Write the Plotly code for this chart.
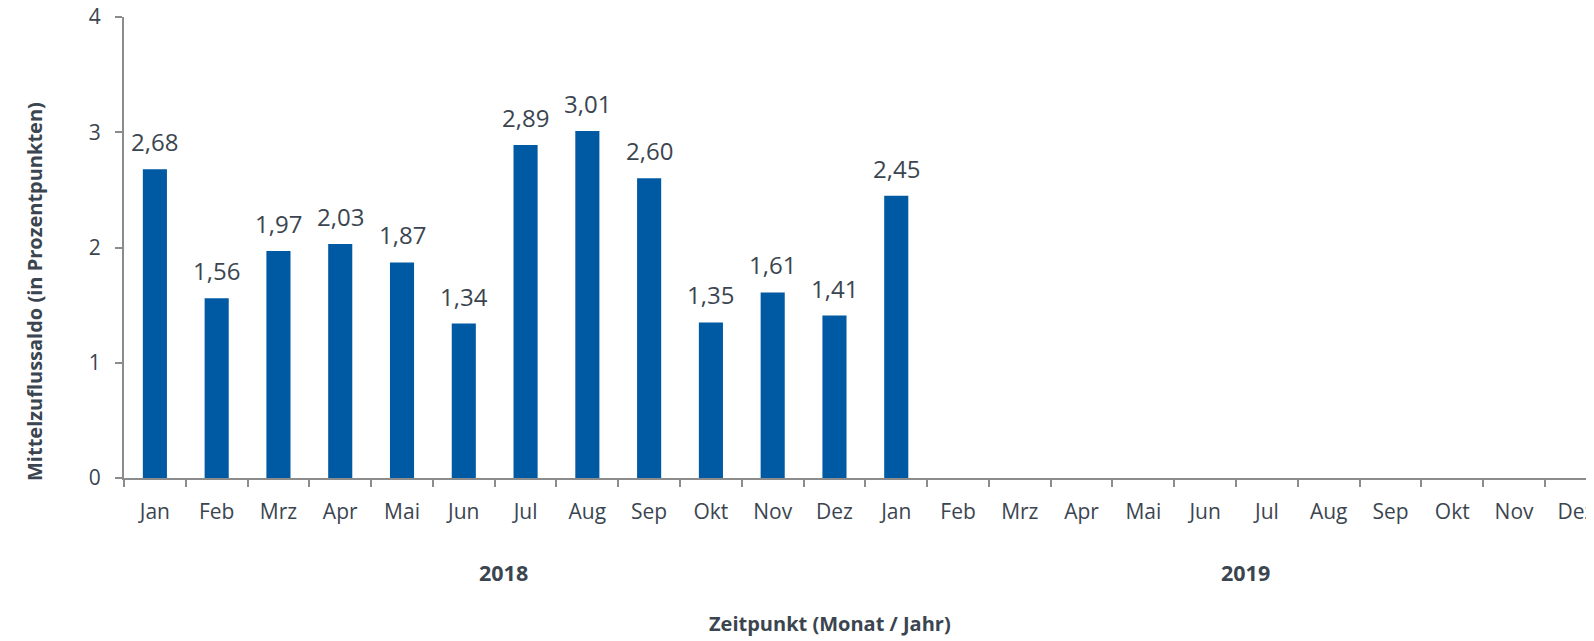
import plotly.graph_objects as go

months = ["Jan", "Feb", "Mrz", "Apr", "Mai", "Jun", "Jul", "Aug", "Sep", "Okt", "Nov", "Dez"]
years = ["2018", "2019"]
values_2018 = [2.68, 1.56, 1.97, 2.03, 1.87, 1.34, 2.89, 3.01, 2.60, 1.35, 1.61, 1.41]
values_2019 = [2.45, None, None, None, None, None, None, None, None, None, None, None]

categories = [f"{m} {y}" for y in years for m in months]
tick_text = months * len(years)
values = values_2018 + values_2019
labels = [("%.2f" % v).replace(".", ",") if v is not None else "" for v in values]

BAR = "#0059A3"
TXT = "#3B4550"
AX = "#8C8C8C"
FONT = "Open Sans"

# page body has an 8px default margin: figure starts at (8, 8)
PAGE_OFF = 8
PLOT_L, PLOT_T, PLOT_B = 124, 17, 478   # target pixel positions on the page
plot_w = 1594 - PLOT_L
plot_h = PLOT_B - PLOT_T
cat_w = 61.78
x_end = -0.5 + plot_w / cat_w

fig = go.Figure()
fig.add_trace(go.Bar(
    x=categories, y=values, marker=dict(color=BAR, line=dict(width=0)),
    width=0.39, hoverinfo="skip",
))

for c, v, t in zip(categories, values, labels):
    if v is None:
        continue
    fig.add_annotation(x=c, y=v, text=t, showarrow=False, yanchor="bottom",
                       yshift=9, font=dict(family=FONT, size=24, color=TXT))

W, H = 1594 - PAGE_OFF, 641 - PAGE_OFF
fig.update_layout(
    width=W, height=H,
    margin=dict(l=PLOT_L - PAGE_OFF, r=0, t=PLOT_T - PAGE_OFF,
                b=H - (PLOT_B - PAGE_OFF), autoexpand=False),
    plot_bgcolor="white", paper_bgcolor="white",
    showlegend=False,
    font=dict(family=FONT, color=TXT),
)
fig.update_xaxes(
    type="category", categoryorder="array", categoryarray=categories,
    range=[-0.5, x_end],
    tickmode="array", tickvals=categories, ticktext=tick_text,
    tickson="boundaries", ticks="outside", ticklen=7, tickwidth=2, tickcolor=AX,
    showline=True, linecolor=AX, linewidth=2, showgrid=False, zeroline=False,
    tickfont=dict(family=FONT, size=21, color=TXT), ticklabelstandoff=14,
    ticklabeloverflow="allow", automargin=False,
)
fig.update_yaxes(
    range=[0, 4], dtick=1, tickmode="linear", tick0=0,
    ticks="outside", ticklen=7, tickwidth=2, tickcolor=AX,
    showline=True, linecolor=AX, linewidth=2, showgrid=False, zeroline=False,
    tickfont=dict(family=FONT, size=21, color=TXT), ticklabelstandoff=10,
    ticklabeloverflow="allow", automargin=False,
)

# year labels
for i, y in enumerate(years):
    fig.add_annotation(x=i * 12 + 5.5, y=0, xref="x", yref="paper", text=f"<b>{y}</b>",
                       showarrow=False, yanchor="middle", yshift=-(572 - PLOT_B), xshift=9,
                       font=dict(family=FONT, size=21.5, color=TXT))

fig.add_annotation(x=(830 - PLOT_L) / plot_w, y=(PLOT_B - 623) / plot_h, xref="paper", yref="paper",
                   xanchor="center", yanchor="middle",
                   text="<b>Zeitpunkt (Monat / Jahr)</b>", showarrow=False,
                   font=dict(family=FONT, size=20, color=TXT))
fig.add_annotation(x=(34 - PLOT_L) / plot_w, y=(PLOT_B - 292) / plot_h, xref="paper", yref="paper",
                   xanchor="center", yanchor="middle",
                   text="<b>Mittelzuflussaldo (in Prozentpunkten)</b>", showarrow=False,
                   textangle=-90, font=dict(family=FONT, size=20, color=TXT))

fig.write_html("out.html")
